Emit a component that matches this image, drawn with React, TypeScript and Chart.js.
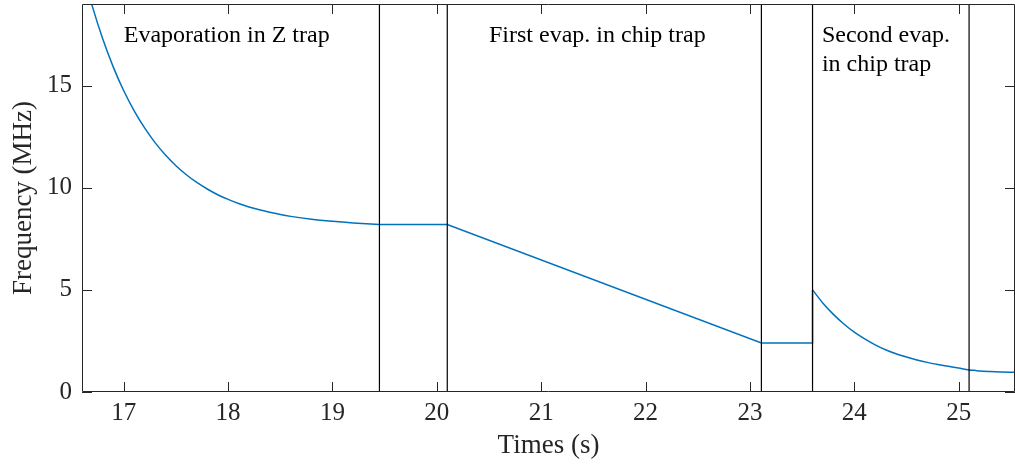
import { useEffect, useRef } from 'react';
import { Chart, registerables } from 'chart.js';

Chart.register(...registerables);

// Stage 1: evaporation in Z trap
const zTrapTime = [16.6, 16.7, 16.8, 16.9, 17.0, 17.1, 17.2, 17.3, 17.4, 17.5, 17.6, 17.7, 17.8, 17.9, 18.0, 18.1, 18.2, 18.3, 18.4, 18.5, 18.6, 18.8, 19.0, 19.2, 19.45];
const zTrapFreq = [20.75, 18.87, 17.27, 15.91, 14.75, 13.77, 12.93, 12.21, 11.6, 11.08, 10.64, 10.26, 9.94, 9.66, 9.43, 9.23, 9.06, 8.92, 8.8, 8.69, 8.6, 8.46, 8.36, 8.28, 8.2];

// Hold, first chip-trap ramp, hold, jump
const chipRampTime = [19.45, 20.1, 23.11, 23.6, 23.6];
const chipRampFreq = [8.2, 8.2, 2.4, 2.4, 5.0];

// Second evaporation in chip trap and after
const secondTime = [23.6, 23.7, 23.8, 23.9, 24.0, 24.1, 24.2, 24.3, 24.4, 24.5, 24.6, 24.7, 24.8, 24.9, 25.0, 25.1, 25.15, 25.2, 25.3, 25.4, 25.55];
const secondFreq = [5.0, 4.35, 3.8, 3.33, 2.93, 2.6, 2.31, 2.07, 1.87, 1.71, 1.57, 1.45, 1.35, 1.26, 1.17, 1.08, 1.06, 1.03, 1.0, 0.98, 0.97];

// Stage boundaries (s)
const stageBoundaries = [19.45, 20.1, 23.11, 23.6, 25.1];

// Axis ticks
const xTicks = [17, 18, 19, 20, 21, 22, 23, 24, 25];
const yTicks = [0, 5, 10, 15];

// Stage labels
const stageLabels = [
  { lines: ['Evaporation in Z trap'], x: 17.0, y: 17.15 },
  { lines: ['First evap. in chip trap'], x: 20.5, y: 17.15 },
  { lines: ['Second evap.', 'in chip trap'], x: 23.69, y: 17.15 },
];

const BLUE = '#0072BD';
const AXIS = '#262626';
const SERIF = '"Liberation Serif", "Times New Roman", serif';

const zip = (xs: number[], ys: number[]) => xs.map((x, i) => ({ x, y: ys[i] }));

export default function App() {
  const ref = useRef<HTMLCanvasElement | null>(null);

  useEffect(() => {
    if (!ref.current) return;

    const framePlugin = {
      id: 'frame',
      afterDraw(chart: any) {
        const { ctx, chartArea: a, scales } = chart;
        const xs = scales.x;
        const ys = scales.y;
        ctx.save();
        // stage labels
        ctx.fillStyle = '#000';
        ctx.font = `24px ${SERIF}`;
        ctx.textAlign = 'left';
        ctx.textBaseline = 'alphabetic';
        for (const lab of stageLabels) {
          const px = xs.getPixelForValue(lab.x);
          const py = ys.getPixelForValue(lab.y);
          lab.lines.forEach((t, i) => ctx.fillText(t, px, py + i * 29));
        }
        // box
        ctx.strokeStyle = AXIS;
        ctx.lineWidth = 1;
        ctx.beginPath();
        ctx.rect(a.left + 0.5, a.top + 0.5, a.right - a.left - 1, a.bottom - a.top - 1);
        ctx.stroke();
        // inward ticks
        const tl = 10;
        ctx.beginPath();
        for (const v of xTicks) {
          const px = Math.round(xs.getPixelForValue(v)) + 0.5;
          ctx.moveTo(px, a.bottom);
          ctx.lineTo(px, a.bottom - tl);
          ctx.moveTo(px, a.top);
          ctx.lineTo(px, a.top + tl);
        }
        for (const v of yTicks) {
          const py = Math.round(ys.getPixelForValue(v)) + 0.5;
          ctx.moveTo(a.left, py);
          ctx.lineTo(a.left + tl, py);
          ctx.moveTo(a.right, py);
          ctx.lineTo(a.right - tl, py);
        }
        ctx.stroke();
        ctx.restore();
      },
    };

    const boundaryDatasets = stageBoundaries.map((t) => ({
      data: [
        { x: t, y: 0 },
        { x: t, y: 19 },
      ],
      showLine: true,
      borderColor: '#000',
      borderWidth: 1.2,
      pointRadius: 0,
      order: 0,
    }));

    const curveStyle = {
      showLine: true,
      borderColor: BLUE,
      borderWidth: 1.5,
      pointRadius: 0,
      order: 1,
    };

    const chart = new Chart(ref.current, {
      type: 'scatter',
      data: {
        datasets: [
          { ...curveStyle, data: zip(zTrapTime, zTrapFreq), cubicInterpolationMode: 'monotone' },
          { ...curveStyle, data: zip(chipRampTime, chipRampFreq) },
          { ...curveStyle, data: zip(secondTime, secondFreq), cubicInterpolationMode: 'monotone' },
          ...boundaryDatasets,
        ],
      } as any,
      options: {
        animation: false,
        responsive: true,
        maintainAspectRatio: false,
        layout: { padding: { top: 4, right: 0, bottom: 0, left: 0 } },
        plugins: { legend: { display: false }, tooltip: { enabled: false } },
        scales: {
          x: {
            type: 'linear',
            min: 16.6,
            max: 25.54,
            afterBuildTicks: (s: any) => {
              s.ticks = xTicks.map((v) => ({ value: v }));
            },
            afterFit: (s: any) => {
              s.height = 72;
              s.paddingLeft = 0;
              s.paddingRight = 0;
            },
            grid: { display: false, drawTicks: false },
            border: { display: false },
            ticks: {
              padding: 6,
              color: AXIS,
              font: { family: SERIF, size: 25 },
              callback: (v: any) => String(v),
            },
            title: {
              display: true,
              text: 'Times (s)',
              color: AXIS,
              font: { family: SERIF, size: 27 },
              padding: { top: 0, bottom: 2 },
            },
          },
          y: {
            type: 'linear',
            min: 0,
            max: 19,
            afterBuildTicks: (s: any) => {
              s.ticks = yTicks.map((v) => ({ value: v }));
            },
            afterFit: (s: any) => {
              s.width = 82;
              s.paddingTop = 0;
              s.paddingBottom = 0;
            },
            grid: { display: false, drawTicks: false },
            border: { display: false },
            ticks: {
              padding: 10,
              color: AXIS,
              font: { family: SERIF, size: 25 },
              callback: (v: any) => String(v),
            },
            title: {
              display: true,
              text: 'Frequency (MHz)',
              color: AXIS,
              font: { family: SERIF, size: 27 },
              padding: { top: 8, bottom: 0 },
            },
          },
        },
      } as any,
      plugins: [framePlugin],
    });

    return () => chart.destroy();
  }, []);

  return (
    <div style={{ position: 'absolute', left: 0, top: 0, width: 1015, height: 464, background: '#fff' }}>
      <canvas ref={ref} />
    </div>
  );
}
